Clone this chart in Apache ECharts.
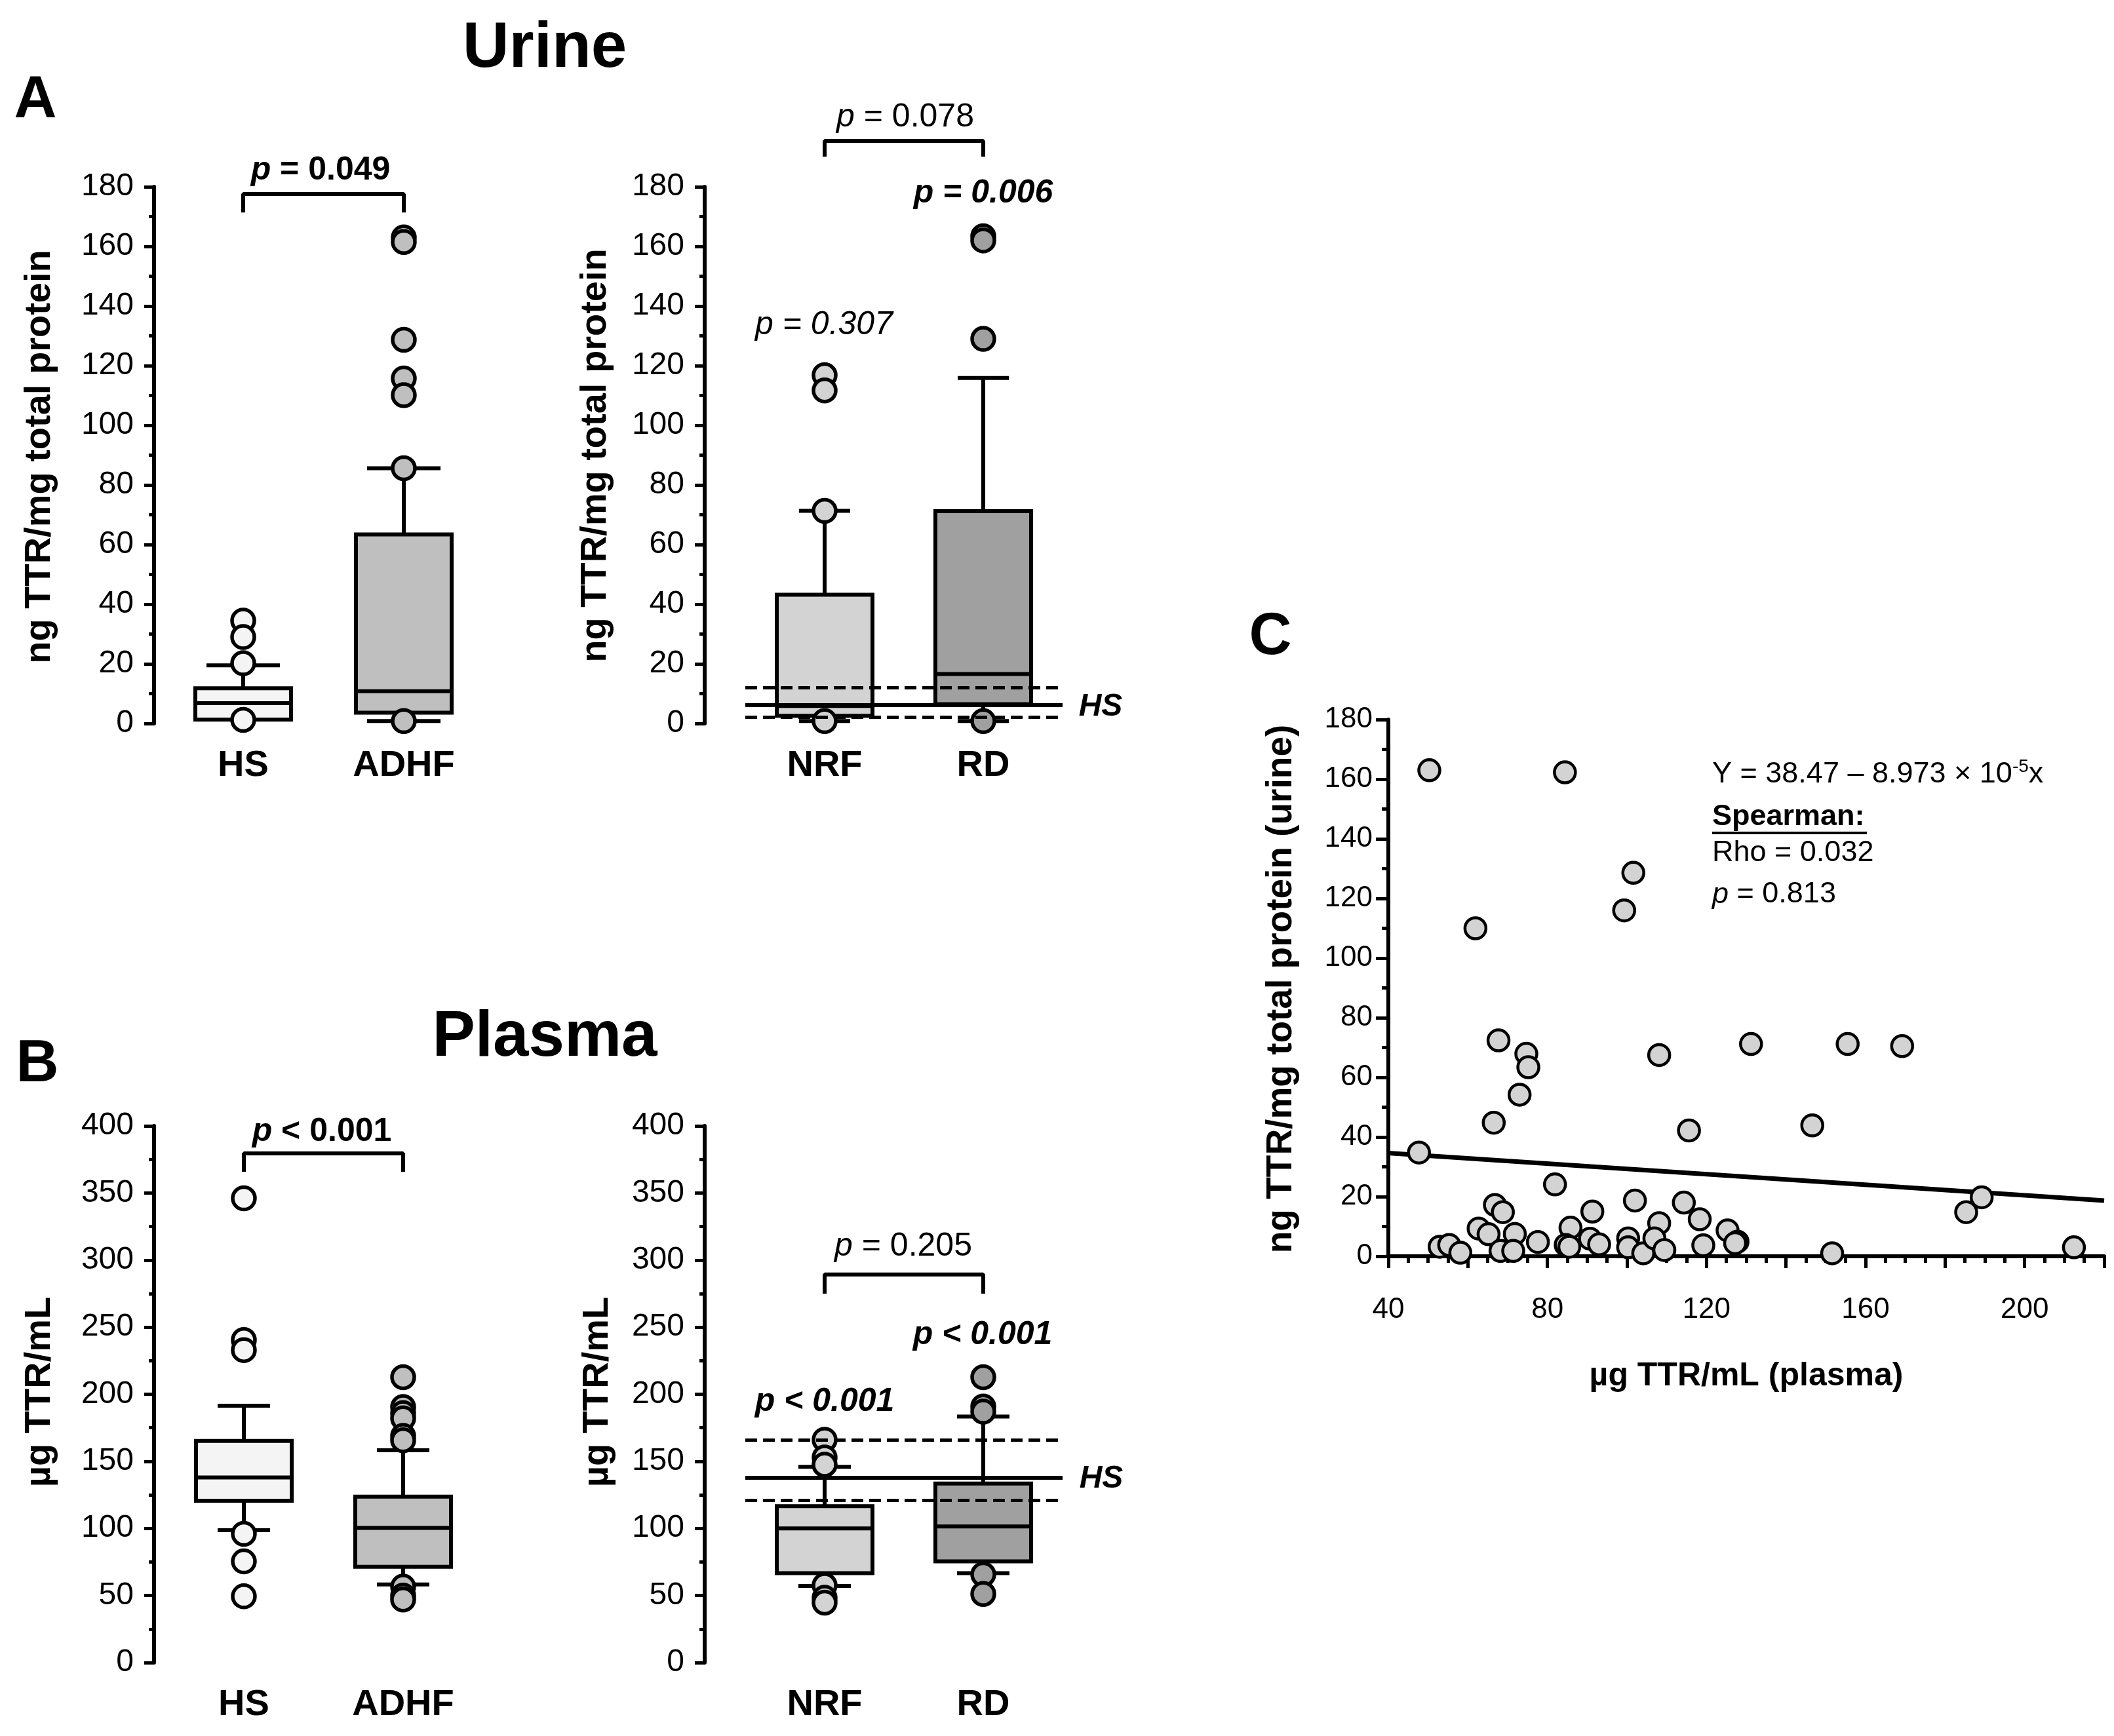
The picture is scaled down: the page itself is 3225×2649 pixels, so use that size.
<!DOCTYPE html>
<html>
<head>
<meta charset="utf-8">
<script src="https://cdn.jsdelivr.net/npm/echarts@6/dist/echarts.min.js"></script>
<style>
html,body{margin:0;padding:0;background:#fff;}
#chart{width:3225px;height:2649px;}
</style>
</head>
<body>
<div id="chart"></div>
<script>
// ---------------- DATA ----------------
// Panel A left (urine): HS vs ADHF  [lowWhisker, q1, median, q3, highWhisker]
const urineGroupsLeft = ['HS', 'ADHF'];
const urineBoxLeft = [[1.3, 1.3, 6.8, 11.8, 19.5], [0.8, 3.6, 10.8, 63.4, 85.6]];
const urineOutHS = [34.5, 29, 20.2, 1.2];
const urineOutADHF = [163, 161.5, 128.7, 115.7, 110.1, 85.6, 0.8];

// Panel A right (urine): NRF vs RD
const urineGroupsRight = ['NRF', 'RD'];
const urineBoxRight = [[0.8, 2.6, 5.9, 43.2, 71.3], [0.8, 6.5, 16.6, 71.2, 115.9]];
const urineOutNRF = [116.8, 111.7, 71.3, 0.8];
const urineOutRD = [163.4, 162, 129, 0.8];
const urineHSRef = [12.0, 6.2, 2.2];   // HS q3, median, q1

// Panel B left (plasma): HS vs ADHF
const plasmaGroupsLeft = ['HS', 'ADHF'];
const plasmaBoxLeft = [[98.6, 120.6, 138.0, 165.2, 191.5], [58.3, 71.4, 100.4, 123.7, 158.2]];
const plasmaOutHS = [346, 240.4, 232.9, 96, 75.4, 49.4];
const plasmaOutADHF = [212.7, 190.5, 186, 182, 169, 165.7, 56.6, 50, 47];

// Panel B right (plasma): NRF vs RD
const plasmaGroupsRight = ['NRF', 'RD'];
const plasmaBoxRight = [[57.2, 66.7, 100.0, 116.6, 145.9], [66.7, 75.4, 101.5, 133.4, 183.4]];
const plasmaOutNRF = [166.1, 152.9, 147.5, 57.6, 48.3, 44.7];
const plasmaOutRD = [212.7, 190.9, 187, 65.7, 51.2];
const plasmaHSRef = [165.7, 137.8, 121.2];

// Bracket levels [legBottom, top] in axis units
const bracketUrineLeft = [171.4, 177.6];
const bracketUrineRight = [190.1, 195.4];
const bracketPlasmaLeft = [365.8, 379.5];
const bracketPlasmaRight = [275, 289.2];

// Panel C: plasma TTR (x) vs urine TTR (y)
const scatterX = [50.3, 84.4, 101.6, 99.3, 61.9, 67.7, 74.7, 75.2, 73.0, 66.5, 108.1, 131.2, 155.5, 169.2, 115.6, 146.6,
  47.7, 81.9, 102.0, 114.3, 189.2, 185.3, 66.8, 68.8, 91.3, 118.3, 108.1, 62.7, 65.2, 71.8, 85.8, 125.3,
  52.9, 55.3, 58.1, 68.2, 71.4, 77.6, 84.6, 85.5, 90.7, 93.0, 100.3, 100.3, 104.1, 106.9, 109.4, 119.2, 127.8, 127.2, 151.6, 212.4];
const scatterY = [163.0, 162.3, 128.6, 116.0, 110.0, 72.4, 67.9, 63.4, 54.2, 44.8, 67.5, 71.2, 71.2, 70.5, 42.2, 43.9,
  34.8, 24.1, 18.7, 18.0, 19.8, 14.8, 17.2, 14.8, 15.0, 12.4, 11.1, 9.3, 7.4, 7.5, 9.6, 8.7,
  3.2, 3.8, 1.2, 1.8, 1.8, 4.8, 3.8, 3.2, 5.9, 4.0, 6.0, 3.0, 1.0, 6.0, 2.1, 3.7, 4.9, 4.4, 1.0, 3.0];
const regressionX = [40, 220];
const regressionY = [34.6, 18.7];

// ---------------- STYLE ----------------
const FONT = 'Liberation Sans, Arial, Helvetica, sans-serif';
const BOX_W = 146;
const LW = 6;
const FILL_HS = '#f4f4f4', FILL_ADHF = '#bfbfbf', FILL_NRF = '#d3d3d3', FILL_RD = '#a0a0a0';

const chart = echarts.init(document.getElementById('chart'), null, {renderer: 'canvas'});

function boxRenderer(fills, capW) {
  return function (params, api) {
    const x = api.value(0);
    const lo = api.coord([x, api.value(1)]);
    const q1 = api.coord([x, api.value(2)]);
    const md = api.coord([x, api.value(3)]);
    const q3 = api.coord([x, api.value(4)]);
    const hi = api.coord([x, api.value(5)]);
    const cx = lo[0], hw = BOX_W / 2, cw = capW / 2;
    const ls = {stroke: '#000', lineWidth: LW};
    return {
      type: 'group', children: [
        {type: 'line', shape: {x1: cx, y1: hi[1], x2: cx, y2: q3[1]}, style: ls},
        {type: 'line', shape: {x1: cx, y1: q1[1], x2: cx, y2: lo[1]}, style: ls},
        {type: 'line', shape: {x1: cx - cw, y1: hi[1], x2: cx + cw, y2: hi[1]}, style: ls},
        {type: 'line', shape: {x1: cx - cw, y1: lo[1], x2: cx + cw, y2: lo[1]}, style: ls},
        {type: 'rect', shape: {x: cx - hw, y: q3[1], width: 2 * hw, height: q1[1] - q3[1]},
          style: {fill: fills[params.dataIndex], stroke: '#000', lineWidth: LW}},
        {type: 'line', shape: {x1: cx - hw, y1: md[1], x2: cx + hw, y2: md[1]}, style: ls}
      ]
    };
  };
}

function boxPanelSeries(gi, stats, fills, outA, outB, capW, bracket, refLines) {
  const series = [];
  series.push({
    type: 'custom', xAxisIndex: gi, yAxisIndex: gi, z: 2,
    renderItem: boxRenderer(fills, capW),
    encode: {x: 0, y: [1, 2, 3, 4, 5]},
    data: stats.map((s, i) => [i].concat(s))
  });
  const outs = [];
  outA.forEach(v => outs.push({value: [0, v], itemStyle: {color: fills[0]}}));
  outB.forEach(v => outs.push({value: [1, v], itemStyle: {color: fills[1]}}));
  series.push({
    type: 'scatter', xAxisIndex: gi, yAxisIndex: gi, z: 3,
    symbol: 'circle', symbolSize: 34,
    itemStyle: {borderColor: '#000', borderWidth: 5.5, opacity: 1},
    data: outs
  });
  const br = {
    type: 'line', xAxisIndex: gi, yAxisIndex: gi, z: 10, clip: false, silent: true,
    symbol: 'none', lineStyle: {color: '#000', width: LW},
    data: [[0, bracket[0]], [0, bracket[1]], [1, bracket[1]], [1, bracket[0]]]
  };
  if (refLines) {
    br.markLine = {
      symbol: 'none', silent: true, label: {show: false},
      lineStyle: {color: '#000', width: LW},
      data: [
        {yAxis: refLines[0], lineStyle: {type: [18, 9], width: 5}},
        {yAxis: refLines[1], lineStyle: {type: 'solid', width: LW}},
        {yAxis: refLines[2], lineStyle: {type: [18, 9], width: 5}}
      ]
    };
  }
  series.push(br);
  return series;
}

const grids = [
  {left: 248.5, top: 285, width: 490, height: 819},
  {left: 1137, top: 285, width: 484, height: 819},
  {left: 250.5, top: 1718, width: 486, height: 819},
  {left: 1137, top: 1718, width: 484, height: 819},
  {left: 2118, top: 1098, width: 1092, height: 819}
];

function catAxis(gi, names) {
  return {
    type: 'category', gridIndex: gi, data: names, boundaryGap: true,
    axisLine: {show: false}, axisTick: {show: false}, splitLine: {show: false},
    axisLabel: {fontFamily: FONT, fontSize: 56, fontWeight: 'bold', color: '#000', margin: 37}
  };
}
function valAxis(gi, max, interval, offset) {
  return {
    type: 'value', gridIndex: gi, min: 0, max: max, interval: interval, offset: offset,
    axisLine: {show: true, lineStyle: {color: '#000', width: LW}},
    axisTick: {show: true, length: 15, lineStyle: {color: '#000', width: 5}},
    minorTick: {show: true, splitNumber: 2, length: 8, lineStyle: {color: '#000', width: 5}},
    splitLine: {show: false}, minorSplitLine: {show: false},
    axisLabel: {fontFamily: FONT, fontSize: 48, color: '#000', margin: 31}
  };
}

const xAxes = [
  catAxis(0, urineGroupsLeft), catAxis(1, urineGroupsRight),
  catAxis(2, plasmaGroupsLeft), catAxis(3, plasmaGroupsRight),
  {
    type: 'value', gridIndex: 4, min: 40, max: 220, interval: 20,
    axisLine: {show: true, onZero: false, lineStyle: {color: '#000', width: LW}},
    axisTick: {show: true, length: 18, lineStyle: {color: '#000', width: 5}},
    minorTick: {show: true, splitNumber: 4, length: 10, lineStyle: {color: '#000', width: 5}},
    splitLine: {show: false}, minorSplitLine: {show: false},
    axisLabel: {fontFamily: FONT, fontSize: 44, color: '#000', margin: 60,
      formatter: v => (v % 40 === 0 ? String(v) : '')}
  }
];
const yAxes = [
  valAxis(0, 180, 20, 13.5), valAxis(1, 180, 20, 62),
  valAxis(2, 400, 50, 15.5), valAxis(3, 400, 50, 62),
  {
    type: 'value', gridIndex: 4, min: 0, max: 180, interval: 20,
    axisLine: {show: true, onZero: false, lineStyle: {color: '#000', width: LW}},
    axisTick: {show: true, length: 19, lineStyle: {color: '#000', width: 5}},
    minorTick: {show: true, splitNumber: 2, length: 10, lineStyle: {color: '#000', width: 5}},
    splitLine: {show: false}, minorSplitLine: {show: false},
    axisLabel: {fontFamily: FONT, fontSize: 44, color: '#000', margin: 24}
  }
];

let series = [];
series = series.concat(boxPanelSeries(0, urineBoxLeft, [FILL_HS, FILL_ADHF], urineOutHS, urineOutADHF, 112, bracketUrineLeft, null));
series = series.concat(boxPanelSeries(1, urineBoxRight, [FILL_NRF, FILL_RD], urineOutNRF, urineOutRD, 78, bracketUrineRight, urineHSRef));
series = series.concat(boxPanelSeries(2, plasmaBoxLeft, [FILL_HS, FILL_ADHF], plasmaOutHS, plasmaOutADHF, 80, bracketPlasmaLeft, null));
series = series.concat(boxPanelSeries(3, plasmaBoxRight, [FILL_NRF, FILL_RD], plasmaOutNRF, plasmaOutRD, 80, bracketPlasmaRight, plasmaHSRef));
series.push({
  type: 'line', xAxisIndex: 4, yAxisIndex: 4, z: 2, symbol: 'none', silent: true,
  lineStyle: {color: '#000', width: 7},
  data: regressionX.map((x, i) => [x, regressionY[i]])
});
series.push({
  type: 'scatter', xAxisIndex: 4, yAxisIndex: 4, z: 3, symbol: 'circle', symbolSize: 32,
  itemStyle: {color: '#d3d3d3', borderColor: '#000', borderWidth: 4.5, opacity: 1},
  data: scatterX.map((x, i) => [x, scatterY[i]])
});

function txt(x, y, text, size, weight, style, extra) {
  return Object.assign({
    type: 'text', x: x, y: y, z: 100,
    style: {text: text, fontFamily: FONT, fontSize: size, fontWeight: weight || 'normal',
      fontStyle: style || 'normal', fill: '#000', align: 'center', verticalAlign: 'middle'}
  }, extra || {});
}
function richTxt(x, y, text, rich, align) {
  return {
    type: 'text', x: x, y: y, z: 100,
    style: {text: text, fill: '#000', align: align || 'center', verticalAlign: 'middle', rich: rich, fontFamily: FONT}
  };
}
const P = 50;
const richBoldP = {
  i: {fontFamily: FONT, fontSize: P, fontWeight: 'bold', fontStyle: 'italic', fill: '#000'},
  b: {fontFamily: FONT, fontSize: P, fontWeight: 'bold', fill: '#000'}
};
const richNormP = {
  i: {fontFamily: FONT, fontSize: P, fontStyle: 'italic', fill: '#000'},
  n: {fontFamily: FONT, fontSize: P, fill: '#000'}
};
const EQ = 45;
const graphics = [
  txt(831, 75, 'Urine', 98, 'bold'),
  txt(831, 1584, 'Plasma', 98, 'bold'),
  txt(54, 154, 'A', 90, 'bold'),
  txt(57, 1625, 'B', 90, 'bold'),
  txt(1938, 973, 'C', 90, 'bold'),
  // axis titles
  txt(61, 697, 'ng TTR/mg total protein', 56, 'bold', null, {rotation: Math.PI / 2}),
  txt(909, 695, 'ng TTR/mg total protein', 56, 'bold', null, {rotation: Math.PI / 2}),
  txt(61, 2124, 'µg TTR/mL', 56, 'bold', null, {rotation: Math.PI / 2}),
  txt(912, 2124, 'µg TTR/mL', 56, 'bold', null, {rotation: Math.PI / 2}),
  txt(1955, 1509, 'ng TTR/mg total protein (urine)', 55, 'bold', null, {rotation: Math.PI / 2}),
  txt(2664, 2100, 'µg TTR/mL (plasma)', 50, 'bold'),
  // p-values
  richTxt(489, 260, '{i|p}{b| = 0.049}', richBoldP),
  richTxt(1381, 179, '{i|p}{n| = 0.078}', richNormP),
  txt(1500, 295, 'p = 0.006', P, 'bold', 'italic'),
  txt(1257, 496, 'p = 0.307', P, 'normal', 'italic'),
  richTxt(491, 1727, '{i|p}{b| < 0.001}', richBoldP),
  richTxt(1378, 1902, '{i|p}{n| = 0.205}', richNormP),
  txt(1258, 2139, 'p < 0.001', P, 'bold', 'italic'),
  txt(1499, 2037, 'p < 0.001', P, 'bold', 'italic'),
  txt(1679, 1079, 'HS', 48, 'bold', 'italic'),
  txt(1680, 2257, 'HS', 48, 'bold', 'italic'),
  // regression annotation
  richTxt(2612, 1182, '{n|Y = 38.47 – 8.973 × 10}{s|-5}{n|x}', {
    n: {fontFamily: FONT, fontSize: EQ, fill: '#000', lineHeight: 52},
    s: {fontFamily: FONT, fontSize: 28, fill: '#000', lineHeight: 30, verticalAlign: 'top'}
  }, 'left'),
  txt(2612, 1247, 'Spearman:', EQ, 'bold', null, {style: {text: 'Spearman:', fontFamily: FONT, fontSize: EQ, fontWeight: 'bold', fill: '#000', align: 'left', verticalAlign: 'middle'}}),
  {type: 'line', z: 100, shape: {x1: 2612, y1: 1271, x2: 2848, y2: 1271}, style: {stroke: '#000', lineWidth: 4}},
  txt(2612, 1302, 'Rho = 0.032', EQ, 'normal', null, {style: {text: 'Rho = 0.032', fontFamily: FONT, fontSize: EQ, fill: '#000', align: 'left', verticalAlign: 'middle'}}),
  richTxt(2612, 1365, '{i|p}{n| = 0.813}', {
    i: {fontFamily: FONT, fontSize: EQ, fontStyle: 'italic', fill: '#000'},
    n: {fontFamily: FONT, fontSize: EQ, fill: '#000'}
  }, 'left')
];

chart.setOption({
  animation: false,
  backgroundColor: '#fff',
  grid: grids,
  xAxis: xAxes,
  yAxis: yAxes,
  series: series,
  graphic: graphics
});
</script>
</body>
</html>
